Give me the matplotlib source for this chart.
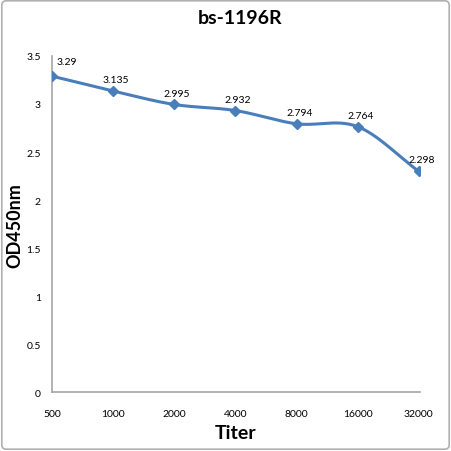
import numpy as np
import matplotlib
matplotlib.use("Agg")
import matplotlib.pyplot as plt
from matplotlib.patches import FancyBboxPatch

titers = ["500", "1000", "2000", "4000", "8000", "16000", "32000"]
od450 = [3.29, 3.135, 2.995, 2.932, 2.794, 2.764, 2.298]
yticks = [0, 0.5, 1, 1.5, 2, 2.5, 3, 3.5]
ytick_labels = ["0", "0.5", "1", "1.5", "2", "2.5", "3", "3.5"]

LINE = "#4a7ebb"
AXC = "#a6a6a6"
plt.rcParams['font.family'] = ['Lato', 'DejaVu Sans']


def smooth(xs, ys, n=30):
    # catmull-rom style smoothing like the excel "smoothed line" option
    xs = np.asarray(xs, float)
    ys = np.asarray(ys, float)
    px = np.concatenate([[2 * xs[0] - xs[1]], xs, [2 * xs[-1] - xs[-2]]])
    py = np.concatenate([[2 * ys[0] - ys[1]], ys, [2 * ys[-1] - ys[-2]]])
    ox, oy = [], []
    for i in range(1, len(px) - 2):
        t = np.linspace(0, 1, n)
        p0, p1, p2, p3 = (np.array([px[i + k], py[i + k]]) for k in (-1, 0, 1, 2))
        c1 = p1 + (p2 - p0) / 6
        c2 = p2 - (p3 - p1) / 6
        b = ((1 - t) ** 3)[:, None] * p1 + (3 * (1 - t) ** 2 * t)[:, None] * c1 \
            + (3 * (1 - t) * t ** 2)[:, None] * c2 + (t ** 3)[:, None] * p2
        ox.extend(b[:, 0])
        oy.extend(b[:, 1])
    return ox, oy


fig = plt.figure(figsize=(4.51, 4.52), dpi=100)
fig.patches.append(FancyBboxPatch((0.004, 0.004), 0.992, 0.992, boxstyle="round,pad=0,rounding_size=0.01",
                                  transform=fig.transFigure, fill=False, ec="#b0b0b0", lw=1.2))
ax = fig.add_axes([0.1153, 0.1305, 0.8160, 0.7434])

x = np.arange(len(titers))
sx, sy = smooth(x, od450)
ax.plot(sx, sy, color=LINE, lw=2.2, solid_capstyle='round', zorder=3)
ax.plot(x, od450, ls='none', marker='D', ms=5, color=LINE, zorder=4)

for i, v in enumerate(od450):
    lab = f"{v:g}"
    if i == 0:
        ax.annotate(lab, (i, v), xytext=(3, 7), textcoords='offset points', ha='left', va='bottom', fontsize=7.5)
    else:
        ax.annotate(lab, (i, v), xytext=(2, 5), textcoords='offset points', ha='center', va='bottom', fontsize=7.5)

ax.set_xlim(0, 6.02)
ax.set_ylim(0, 3.5)
ax.set_xticks(x)
ax.set_xticklabels(titers, fontsize=7.5)
ax.set_yticks(yticks)
ax.set_yticklabels(ytick_labels, fontsize=7.5)
ax.tick_params(length=0, pad=8)
ax.tick_params(axis='x', pad=12)
for s in ['top', 'right']:
    ax.spines[s].set_visible(False)
for s in ['left', 'bottom']:
    ax.spines[s].set_color(AXC)
    ax.spines[s].set_linewidth(1.2)

fig.text(0.532, 0.958, "bs-1196R", ha='center', va='center', fontsize=14, fontweight='bold')
fig.text(0.523, 0.042, "Titer", ha='center', va='center', fontsize=14, fontweight='bold')
fig.text(0.032, 0.50, "OD450nm", ha='center', va='center', rotation=90, fontsize=13, fontweight='bold')

fig.savefig("out.png", dpi=100)
